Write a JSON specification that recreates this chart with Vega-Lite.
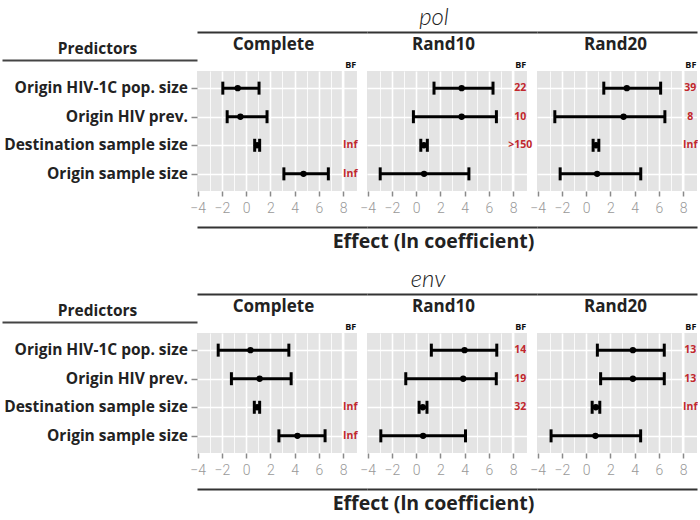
{
  "$schema": "https://vega.github.io/schema/vega-lite/v6.json",
  "padding": {"left": 2, "top": 6, "right": 0, "bottom": 4},
  "background": "white",
  "config": {"view": {"stroke": null}, "font": "Lato"},
  "datasets": {
    "est": [
      {"section": "pol", "panel": "Complete", "predictor": "Origin HIV-1C pop. size", "lo": -1.92, "mean": -0.69, "hi": 1.07, "bf": ""},
      {"section": "pol", "panel": "Complete", "predictor": "Origin HIV prev.", "lo": -1.56, "mean": -0.47, "hi": 1.73, "bf": ""},
      {"section": "pol", "panel": "Complete", "predictor": "Destination sample size", "lo": 0.71, "mean": 0.9, "hi": 1.12, "bf": "Inf"},
      {"section": "pol", "panel": "Complete", "predictor": "Origin sample size", "lo": 3.12, "mean": 4.74, "hi": 6.79, "bf": "Inf"},
      {"section": "pol", "panel": "Rand10", "predictor": "Origin HIV-1C pop. size", "lo": 1.48, "mean": 3.76, "hi": 6.35, "bf": "22"},
      {"section": "pol", "panel": "Rand10", "predictor": "Origin HIV prev.", "lo": -0.22, "mean": 3.76, "hi": 6.63, "bf": "10"},
      {"section": "pol", "panel": "Rand10", "predictor": "Destination sample size", "lo": 0.39, "mean": 0.65, "hi": 0.93, "bf": ">150"},
      {"section": "pol", "panel": "Rand10", "predictor": "Origin sample size", "lo": -2.96, "mean": 0.66, "hi": 4.36, "bf": ""},
      {"section": "pol", "panel": "Rand20", "predictor": "Origin HIV-1C pop. size", "lo": 1.46, "mean": 3.36, "hi": 6.15, "bf": "39"},
      {"section": "pol", "panel": "Rand20", "predictor": "Origin HIV prev.", "lo": -2.58, "mean": 3.09, "hi": 6.5, "bf": "8"},
      {"section": "pol", "panel": "Rand20", "predictor": "Destination sample size", "lo": 0.58, "mean": 0.82, "hi": 1.05, "bf": "Inf"},
      {"section": "pol", "panel": "Rand20", "predictor": "Origin sample size", "lo": -2.14, "mean": 0.91, "hi": 4.51, "bf": ""},
      {"section": "env", "panel": "Complete", "predictor": "Origin HIV-1C pop. size", "lo": -2.3, "mean": 0.36, "hi": 3.53, "bf": ""},
      {"section": "env", "panel": "Complete", "predictor": "Origin HIV prev.", "lo": -1.21, "mean": 1.12, "hi": 3.72, "bf": ""},
      {"section": "env", "panel": "Complete", "predictor": "Destination sample size", "lo": 0.68, "mean": 0.9, "hi": 1.12, "bf": "Inf"},
      {"section": "env", "panel": "Complete", "predictor": "Origin sample size", "lo": 2.71, "mean": 4.24, "hi": 6.52, "bf": "Inf"},
      {"section": "env", "panel": "Rand10", "predictor": "Origin HIV-1C pop. size", "lo": 1.26, "mean": 4.0, "hi": 6.66, "bf": "14"},
      {"section": "env", "panel": "Rand10", "predictor": "Origin HIV prev.", "lo": -0.85, "mean": 3.89, "hi": 6.62, "bf": "19"},
      {"section": "env", "panel": "Rand10", "predictor": "Destination sample size", "lo": 0.25, "mean": 0.55, "hi": 0.9, "bf": "32"},
      {"section": "env", "panel": "Rand10", "predictor": "Origin sample size", "lo": -2.91, "mean": 0.58, "hi": 4.08, "bf": ""},
      {"section": "env", "panel": "Rand20", "predictor": "Origin HIV-1C pop. size", "lo": 0.93, "mean": 3.86, "hi": 6.45, "bf": "13"},
      {"section": "env", "panel": "Rand20", "predictor": "Origin HIV prev.", "lo": 1.2, "mean": 3.86, "hi": 6.45, "bf": "13"},
      {"section": "env", "panel": "Rand20", "predictor": "Destination sample size", "lo": 0.5, "mean": 0.8, "hi": 1.13, "bf": "Inf"},
      {"section": "env", "panel": "Rand20", "predictor": "Origin sample size", "lo": -2.89, "mean": 0.77, "hi": 4.5, "bf": ""}
    ]
  },
  "spacing": 17,
  "vconcat": [
    {
      "bounds": "flush",
      "spacing": 0,
      "hconcat": [
        {
          "width": 195, "height": 120,
          "data": {"name": "est"},
          "transform": [{"filter": "datum.section === 'pol' && datum.panel === 'Complete'"}],
          "mark": {"type": "text", "align": "right", "baseline": "middle", "dx": -9, "font": "Open Sans", "fontSize": 15.5, "fontWeight": "bold", "color": "#222222"},
          "encoding": {
            "x": {"datum": 1, "type": "quantitative", "scale": {"domain": [0, 1], "nice": false, "zero": false},
                  "axis": {"orient": "top", "offset": 11, "domain": true, "domainColor": "#444444", "domainWidth": 2, "ticks": false, "labels": false, "grid": false,
                           "title": "Predictors", "titleFont": "Open Sans", "titleFontSize": 15.5, "titleFontWeight": "bold", "titleColor": "#222222", "titlePadding": 4, "titleX": 95}},
            "y": {"field": "predictor", "type": "nominal", "scale": {"type": "point", "padding": 0.6, "domain": ["Origin HIV-1C pop. size", "Origin HIV prev.", "Destination sample size", "Origin sample size"]}, "axis": null},
            "text": {"field": "predictor"}
          }
        },
        {
          "width": 170, "height": 120,
          "view": {"fill": "#E4E4E4", "stroke": null},
          "data": {"name": "est"},
          "transform": [{"filter": "datum.section === 'pol' && datum.panel === 'Complete'"}],
          "resolve": {"axis": {"x": "independent"}},
          "layer": [
            {"data": {"values": [{}]}, "mark": {"type": "rect", "color": "white"},
             "encoding": {"x": {"datum": 7.9, "type": "quantitative", "scale": {"domain": [-4.05, 9.98], "nice": false, "zero": false},
               "axis": {"orient": "bottom", "values": [-4,-3,-2,-1,0,1,2,3,4,5,6,7,8], "labelExpr": "datum.value % 2 === 0 ? datum.label : ''", "domain": false, "ticks": true, "tickSize": 5, "tickWidth": 1.5, "tickColor": "#8a8a8a", "tickOpacity": {"condition": {"test": "datum.value % 2 === 0", "value": 1}, "value": 0}, "grid": true, "gridColor": "white", "gridWidth": {"condition": {"test": "datum.value % 2 === 0", "value": 1.6}, "value": 0.8}, "gridOpacity": {"condition": {"test": "datum.value < -3.5", "value": 0}, "value": 1}, "labelFont": "Roboto", "labelFontWeight": 300, "labelFontSize": 14, "labelColor": "#999999", "labelPadding": 5, "labelFlush": false, "labelOverlap": false, "title": null}},
               "x2": {"datum": 8.1}}},
            {"data": {"values": [{}]}, "mark": {"type": "rect", "color": "white"},
             "encoding": {"x": {"datum": 9.15, "type": "quantitative", "axis": null}, "x2": {"datum": 9.98}}},
            {"encoding": {"y": {"field": "predictor", "type": "nominal", "scale": {"type": "point", "padding": 0.6, "domain": ["Origin HIV-1C pop. size", "Origin HIV prev.", "Destination sample size", "Origin sample size"]},
                "axis": {"orient": "left", "domain": false, "labels": false, "ticks": true, "tickSize": 6, "tickWidth": 1.5, "tickColor": "#8a8a8a", "grid": true, "gridColor": "white", "gridWidth": 1.6, "title": null}}},
             "resolve": {"axis": {"x": "independent"}},
             "layer": [
               {"mark": {"type": "rule", "strokeWidth": 3, "color": "black"},
                "encoding": {"x": {"field": "lo", "type": "quantitative",
                   "axis": {"orient": "top", "offset": 39, "domain": true, "domainColor": "#333333", "domainWidth": 2, "ticks": false, "tickSize": 0, "values": [8.6], "labelExpr": "'BF'", "labelFont": "Open Sans", "labelFontSize": 9, "labelFontWeight": "bold", "labelColor": "#111111", "labelPadding": -37, "labelFlush": false, "grid": false, "title": "Complete", "titleX": 76, "titleY": 12, "titleAlign": "center", "titleBaseline": "middle", "titleFont": "Open Sans", "titleFontSize": 17, "titleFontWeight": "bold", "titleColor": "#222222"}},
                  "x2": {"field": "hi"}}},
               {"mark": {"type": "tick", "orient": "vertical", "size": 13, "thickness": 3, "color": "black", "opacity": 1},
                "encoding": {"x": {"field": "lo", "type": "quantitative", "axis": {"orient": "bottom", "offset": 36, "domain": true, "domainColor": "#333333", "domainWidth": 2, "ticks": false, "labels": false, "grid": false, "title": null}}}},
               {"mark": {"type": "tick", "orient": "vertical", "size": 13, "thickness": 3, "color": "black", "opacity": 1},
                "encoding": {"x": {"field": "hi", "type": "quantitative", "axis": null}}},
               {"mark": {"type": "point", "filled": true, "size": 40, "color": "black", "opacity": 1},
                "encoding": {"x": {"field": "mean", "type": "quantitative", "axis": null}}},
               {"mark": {"type": "text", "color": "#C1272D", "fontSize": 10.5, "fontWeight": "bold", "align": "center", "baseline": "middle", "font": "Open Sans"},
                "encoding": {"x": {"datum": 8.6, "type": "quantitative", "axis": null}, "text": {"field": "bf"}}}
             ]}
          ]
        },
        {
          "width": 170, "height": 120,
          "view": {"fill": "#E4E4E4", "stroke": null},
          "title": {"text": "pol", "font": "Lato", "fontSize": 24, "fontStyle": "italic", "fontWeight": 300, "color": "#222222", "anchor": "middle", "frame": "group", "dx": -18, "offset": 2},
          "data": {"name": "est"},
          "transform": [{"filter": "datum.section === 'pol' && datum.panel === 'Rand10'"}],
          "resolve": {"axis": {"x": "independent"}},
          "layer": [
            {"data": {"values": [{}]}, "mark": {"type": "rect", "color": "white"},
             "encoding": {"x": {"datum": 7.9, "type": "quantitative", "scale": {"domain": [-4.05, 9.98], "nice": false, "zero": false},
               "axis": {"orient": "bottom", "values": [-4,-3,-2,-1,0,1,2,3,4,5,6,7,8], "labelExpr": "datum.value % 2 === 0 ? datum.label : ''", "domain": false, "ticks": true, "tickSize": 5, "tickWidth": 1.5, "tickColor": "#8a8a8a", "tickOpacity": {"condition": {"test": "datum.value % 2 === 0", "value": 1}, "value": 0}, "grid": true, "gridColor": "white", "gridWidth": {"condition": {"test": "datum.value % 2 === 0", "value": 1.6}, "value": 0.8}, "gridOpacity": {"condition": {"test": "datum.value < -3.5", "value": 0}, "value": 1}, "labelFont": "Roboto", "labelFontWeight": 300, "labelFontSize": 14, "labelColor": "#999999", "labelPadding": 5, "labelFlush": false, "labelOverlap": false, "title": null}},
               "x2": {"datum": 8.1}}},
            {"data": {"values": [{}]}, "mark": {"type": "rect", "color": "white"},
             "encoding": {"x": {"datum": 9.15, "type": "quantitative", "axis": null}, "x2": {"datum": 9.98}}},
            {"encoding": {"y": {"field": "predictor", "type": "nominal", "scale": {"type": "point", "padding": 0.6, "domain": ["Origin HIV-1C pop. size", "Origin HIV prev.", "Destination sample size", "Origin sample size"]},
                "axis": {"orient": "left", "domain": false, "labels": false, "ticks": false, "grid": true, "gridColor": "white", "gridWidth": 1.6, "title": null}}},
             "resolve": {"axis": {"x": "independent"}},
             "layer": [
               {"mark": {"type": "rule", "strokeWidth": 3, "color": "black"},
                "encoding": {"x": {"field": "lo", "type": "quantitative",
                   "axis": {"orient": "top", "offset": 39, "domain": true, "domainColor": "#333333", "domainWidth": 2, "ticks": false, "tickSize": 0, "values": [8.6], "labelExpr": "'BF'", "labelFont": "Open Sans", "labelFontSize": 9, "labelFontWeight": "bold", "labelColor": "#111111", "labelPadding": -37, "labelFlush": false, "grid": false, "title": "Rand10", "titleX": 76, "titleY": 12, "titleAlign": "center", "titleBaseline": "middle", "titleFont": "Open Sans", "titleFontSize": 17, "titleFontWeight": "bold", "titleColor": "#222222"}},
                  "x2": {"field": "hi"}}},
               {"mark": {"type": "tick", "orient": "vertical", "size": 13, "thickness": 3, "color": "black", "opacity": 1},
                "encoding": {"x": {"field": "lo", "type": "quantitative", "axis": {"orient": "bottom", "offset": 36, "domain": true, "domainColor": "#333333", "domainWidth": 2, "ticks": false, "labels": false, "grid": false, "title": "Effect (ln coefficient)", "titleX": 66, "titleY": 14, "titleAlign": "center", "titleBaseline": "middle", "titleFont": "Open Sans", "titleFontSize": 19.5, "titleFontWeight": "bold", "titleColor": "#222222"}}}},
               {"mark": {"type": "tick", "orient": "vertical", "size": 13, "thickness": 3, "color": "black", "opacity": 1},
                "encoding": {"x": {"field": "hi", "type": "quantitative", "axis": null}}},
               {"mark": {"type": "point", "filled": true, "size": 40, "color": "black", "opacity": 1},
                "encoding": {"x": {"field": "mean", "type": "quantitative", "axis": null}}},
               {"mark": {"type": "text", "color": "#C1272D", "fontSize": 10.5, "fontWeight": "bold", "align": "center", "baseline": "middle", "font": "Open Sans"},
                "encoding": {"x": {"datum": 8.6, "type": "quantitative", "axis": null}, "text": {"field": "bf"}}}
             ]}
          ]
        },
        {
          "width": 160, "height": 120,
          "view": {"fill": "#E4E4E4", "stroke": null},
          "data": {"name": "est"},
          "transform": [{"filter": "datum.section === 'pol' && datum.panel === 'Rand20'"}],
          "resolve": {"axis": {"x": "independent"}},
          "layer": [
            {"data": {"values": [{}]}, "mark": {"type": "rect", "color": "white"},
             "encoding": {"x": {"datum": 7.9, "type": "quantitative", "scale": {"domain": [-4.05, 9.15], "nice": false, "zero": false},
               "axis": {"orient": "bottom", "values": [-4,-3,-2,-1,0,1,2,3,4,5,6,7,8], "labelExpr": "datum.value % 2 === 0 ? datum.label : ''", "domain": false, "ticks": true, "tickSize": 5, "tickWidth": 1.5, "tickColor": "#8a8a8a", "tickOpacity": {"condition": {"test": "datum.value % 2 === 0", "value": 1}, "value": 0}, "grid": true, "gridColor": "white", "gridWidth": {"condition": {"test": "datum.value % 2 === 0", "value": 1.6}, "value": 0.8}, "gridOpacity": {"condition": {"test": "datum.value < -3.5", "value": 0}, "value": 1}, "labelFont": "Roboto", "labelFontWeight": 300, "labelFontSize": 14, "labelColor": "#999999", "labelPadding": 5, "labelFlush": false, "labelOverlap": false, "title": null}},
               "x2": {"datum": 8.1}}},
            {"encoding": {"y": {"field": "predictor", "type": "nominal", "scale": {"type": "point", "padding": 0.6, "domain": ["Origin HIV-1C pop. size", "Origin HIV prev.", "Destination sample size", "Origin sample size"]},
                "axis": {"orient": "left", "domain": false, "labels": false, "ticks": false, "grid": true, "gridColor": "white", "gridWidth": 1.6, "title": null}}},
             "resolve": {"axis": {"x": "independent"}},
             "layer": [
               {"mark": {"type": "rule", "strokeWidth": 3, "color": "black"},
                "encoding": {"x": {"field": "lo", "type": "quantitative",
                   "axis": {"orient": "top", "offset": 39, "domain": true, "domainColor": "#333333", "domainWidth": 2, "ticks": false, "tickSize": 0, "values": [8.6], "labelExpr": "'BF'", "labelFont": "Open Sans", "labelFontSize": 9, "labelFontWeight": "bold", "labelColor": "#111111", "labelPadding": -37, "labelFlush": false, "grid": false, "title": "Rand20", "titleX": 78, "titleY": 12, "titleAlign": "center", "titleBaseline": "middle", "titleFont": "Open Sans", "titleFontSize": 17, "titleFontWeight": "bold", "titleColor": "#222222"}},
                  "x2": {"field": "hi"}}},
               {"mark": {"type": "tick", "orient": "vertical", "size": 13, "thickness": 3, "color": "black", "opacity": 1},
                "encoding": {"x": {"field": "lo", "type": "quantitative", "axis": {"orient": "bottom", "offset": 36, "domain": true, "domainColor": "#333333", "domainWidth": 2, "ticks": false, "labels": false, "grid": false, "title": null}}}},
               {"mark": {"type": "tick", "orient": "vertical", "size": 13, "thickness": 3, "color": "black", "opacity": 1},
                "encoding": {"x": {"field": "hi", "type": "quantitative", "axis": null}}},
               {"mark": {"type": "point", "filled": true, "size": 40, "color": "black", "opacity": 1},
                "encoding": {"x": {"field": "mean", "type": "quantitative", "axis": null}}},
               {"mark": {"type": "text", "color": "#C1272D", "fontSize": 10.5, "fontWeight": "bold", "align": "center", "baseline": "middle", "font": "Open Sans"},
                "encoding": {"x": {"datum": 8.6, "type": "quantitative", "axis": null}, "text": {"field": "bf"}}}
             ]}
          ]
        }
      ]
    },
    {
      "bounds": "flush",
      "spacing": 0,
      "hconcat": [
        {
          "width": 195, "height": 120,
          "data": {"name": "est"},
          "transform": [{"filter": "datum.section === 'env' && datum.panel === 'Complete'"}],
          "mark": {"type": "text", "align": "right", "baseline": "middle", "dx": -9, "font": "Open Sans", "fontSize": 15.5, "fontWeight": "bold", "color": "#222222"},
          "encoding": {
            "x": {"datum": 1, "type": "quantitative", "scale": {"domain": [0, 1], "nice": false, "zero": false},
                  "axis": {"orient": "top", "offset": 11, "domain": true, "domainColor": "#444444", "domainWidth": 2, "ticks": false, "labels": false, "grid": false,
                           "title": "Predictors", "titleFont": "Open Sans", "titleFontSize": 15.5, "titleFontWeight": "bold", "titleColor": "#222222", "titlePadding": 4, "titleX": 95}},
            "y": {"field": "predictor", "type": "nominal", "scale": {"type": "point", "padding": 0.6, "domain": ["Origin HIV-1C pop. size", "Origin HIV prev.", "Destination sample size", "Origin sample size"]}, "axis": null},
            "text": {"field": "predictor"}
          }
        },
        {
          "width": 170, "height": 120,
          "view": {"fill": "#E4E4E4", "stroke": null},
          "data": {"name": "est"},
          "transform": [{"filter": "datum.section === 'env' && datum.panel === 'Complete'"}],
          "resolve": {"axis": {"x": "independent"}},
          "layer": [
            {"data": {"values": [{}]}, "mark": {"type": "rect", "color": "white"},
             "encoding": {"x": {"datum": 7.9, "type": "quantitative", "scale": {"domain": [-4.05, 9.98], "nice": false, "zero": false},
               "axis": {"orient": "bottom", "values": [-4,-3,-2,-1,0,1,2,3,4,5,6,7,8], "labelExpr": "datum.value % 2 === 0 ? datum.label : ''", "domain": false, "ticks": true, "tickSize": 5, "tickWidth": 1.5, "tickColor": "#8a8a8a", "tickOpacity": {"condition": {"test": "datum.value % 2 === 0", "value": 1}, "value": 0}, "grid": true, "gridColor": "white", "gridWidth": {"condition": {"test": "datum.value % 2 === 0", "value": 1.6}, "value": 0.8}, "gridOpacity": {"condition": {"test": "datum.value < -3.5", "value": 0}, "value": 1}, "labelFont": "Roboto", "labelFontWeight": 300, "labelFontSize": 14, "labelColor": "#999999", "labelPadding": 5, "labelFlush": false, "labelOverlap": false, "title": null}},
               "x2": {"datum": 8.1}}},
            {"data": {"values": [{}]}, "mark": {"type": "rect", "color": "white"},
             "encoding": {"x": {"datum": 9.15, "type": "quantitative", "axis": null}, "x2": {"datum": 9.98}}},
            {"encoding": {"y": {"field": "predictor", "type": "nominal", "scale": {"type": "point", "padding": 0.6, "domain": ["Origin HIV-1C pop. size", "Origin HIV prev.", "Destination sample size", "Origin sample size"]},
                "axis": {"orient": "left", "domain": false, "labels": false, "ticks": true, "tickSize": 6, "tickWidth": 1.5, "tickColor": "#8a8a8a", "grid": true, "gridColor": "white", "gridWidth": 1.6, "title": null}}},
             "resolve": {"axis": {"x": "independent"}},
             "layer": [
               {"mark": {"type": "rule", "strokeWidth": 3, "color": "black"},
                "encoding": {"x": {"field": "lo", "type": "quantitative",
                   "axis": {"orient": "top", "offset": 39, "domain": true, "domainColor": "#333333", "domainWidth": 2, "ticks": false, "tickSize": 0, "values": [8.6], "labelExpr": "'BF'", "labelFont": "Open Sans", "labelFontSize": 9, "labelFontWeight": "bold", "labelColor": "#111111", "labelPadding": -37, "labelFlush": false, "grid": false, "title": "Complete", "titleX": 76, "titleY": 12, "titleAlign": "center", "titleBaseline": "middle", "titleFont": "Open Sans", "titleFontSize": 17, "titleFontWeight": "bold", "titleColor": "#222222"}},
                  "x2": {"field": "hi"}}},
               {"mark": {"type": "tick", "orient": "vertical", "size": 13, "thickness": 3, "color": "black", "opacity": 1},
                "encoding": {"x": {"field": "lo", "type": "quantitative", "axis": {"orient": "bottom", "offset": 36, "domain": true, "domainColor": "#333333", "domainWidth": 2, "ticks": false, "labels": false, "grid": false, "title": null}}}},
               {"mark": {"type": "tick", "orient": "vertical", "size": 13, "thickness": 3, "color": "black", "opacity": 1},
                "encoding": {"x": {"field": "hi", "type": "quantitative", "axis": null}}},
               {"mark": {"type": "point", "filled": true, "size": 40, "color": "black", "opacity": 1},
                "encoding": {"x": {"field": "mean", "type": "quantitative", "axis": null}}},
               {"mark": {"type": "text", "color": "#C1272D", "fontSize": 10.5, "fontWeight": "bold", "align": "center", "baseline": "middle", "font": "Open Sans"},
                "encoding": {"x": {"datum": 8.6, "type": "quantitative", "axis": null}, "text": {"field": "bf"}}}
             ]}
          ]
        },
        {
          "width": 170, "height": 120,
          "view": {"fill": "#E4E4E4", "stroke": null},
          "title": {"text": "env", "font": "Lato", "fontSize": 24, "fontStyle": "italic", "fontWeight": 300, "color": "#222222", "anchor": "middle", "frame": "group", "dx": -24, "offset": 2},
          "data": {"name": "est"},
          "transform": [{"filter": "datum.section === 'env' && datum.panel === 'Rand10'"}],
          "resolve": {"axis": {"x": "independent"}},
          "layer": [
            {"data": {"values": [{}]}, "mark": {"type": "rect", "color": "white"},
             "encoding": {"x": {"datum": 7.9, "type": "quantitative", "scale": {"domain": [-4.05, 9.98], "nice": false, "zero": false},
               "axis": {"orient": "bottom", "values": [-4,-3,-2,-1,0,1,2,3,4,5,6,7,8], "labelExpr": "datum.value % 2 === 0 ? datum.label : ''", "domain": false, "ticks": true, "tickSize": 5, "tickWidth": 1.5, "tickColor": "#8a8a8a", "tickOpacity": {"condition": {"test": "datum.value % 2 === 0", "value": 1}, "value": 0}, "grid": true, "gridColor": "white", "gridWidth": {"condition": {"test": "datum.value % 2 === 0", "value": 1.6}, "value": 0.8}, "gridOpacity": {"condition": {"test": "datum.value < -3.5", "value": 0}, "value": 1}, "labelFont": "Roboto", "labelFontWeight": 300, "labelFontSize": 14, "labelColor": "#999999", "labelPadding": 5, "labelFlush": false, "labelOverlap": false, "title": null}},
               "x2": {"datum": 8.1}}},
            {"data": {"values": [{}]}, "mark": {"type": "rect", "color": "white"},
             "encoding": {"x": {"datum": 9.15, "type": "quantitative", "axis": null}, "x2": {"datum": 9.98}}},
            {"encoding": {"y": {"field": "predictor", "type": "nominal", "scale": {"type": "point", "padding": 0.6, "domain": ["Origin HIV-1C pop. size", "Origin HIV prev.", "Destination sample size", "Origin sample size"]},
                "axis": {"orient": "left", "domain": false, "labels": false, "ticks": false, "grid": true, "gridColor": "white", "gridWidth": 1.6, "title": null}}},
             "resolve": {"axis": {"x": "independent"}},
             "layer": [
               {"mark": {"type": "rule", "strokeWidth": 3, "color": "black"},
                "encoding": {"x": {"field": "lo", "type": "quantitative",
                   "axis": {"orient": "top", "offset": 39, "domain": true, "domainColor": "#333333", "domainWidth": 2, "ticks": false, "tickSize": 0, "values": [8.6], "labelExpr": "'BF'", "labelFont": "Open Sans", "labelFontSize": 9, "labelFontWeight": "bold", "labelColor": "#111111", "labelPadding": -37, "labelFlush": false, "grid": false, "title": "Rand10", "titleX": 76, "titleY": 12, "titleAlign": "center", "titleBaseline": "middle", "titleFont": "Open Sans", "titleFontSize": 17, "titleFontWeight": "bold", "titleColor": "#222222"}},
                  "x2": {"field": "hi"}}},
               {"mark": {"type": "tick", "orient": "vertical", "size": 13, "thickness": 3, "color": "black", "opacity": 1},
                "encoding": {"x": {"field": "lo", "type": "quantitative", "axis": {"orient": "bottom", "offset": 36, "domain": true, "domainColor": "#333333", "domainWidth": 2, "ticks": false, "labels": false, "grid": false, "title": "Effect (ln coefficient)", "titleX": 66, "titleY": 14, "titleAlign": "center", "titleBaseline": "middle", "titleFont": "Open Sans", "titleFontSize": 19.5, "titleFontWeight": "bold", "titleColor": "#222222"}}}},
               {"mark": {"type": "tick", "orient": "vertical", "size": 13, "thickness": 3, "color": "black", "opacity": 1},
                "encoding": {"x": {"field": "hi", "type": "quantitative", "axis": null}}},
               {"mark": {"type": "point", "filled": true, "size": 40, "color": "black", "opacity": 1},
                "encoding": {"x": {"field": "mean", "type": "quantitative", "axis": null}}},
               {"mark": {"type": "text", "color": "#C1272D", "fontSize": 10.5, "fontWeight": "bold", "align": "center", "baseline": "middle", "font": "Open Sans"},
                "encoding": {"x": {"datum": 8.6, "type": "quantitative", "axis": null}, "text": {"field": "bf"}}}
             ]}
          ]
        },
        {
          "width": 160, "height": 120,
          "view": {"fill": "#E4E4E4", "stroke": null},
          "data": {"name": "est"},
          "transform": [{"filter": "datum.section === 'env' && datum.panel === 'Rand20'"}],
          "resolve": {"axis": {"x": "independent"}},
          "layer": [
            {"data": {"values": [{}]}, "mark": {"type": "rect", "color": "white"},
             "encoding": {"x": {"datum": 7.9, "type": "quantitative", "scale": {"domain": [-4.05, 9.15], "nice": false, "zero": false},
               "axis": {"orient": "bottom", "values": [-4,-3,-2,-1,0,1,2,3,4,5,6,7,8], "labelExpr": "datum.value % 2 === 0 ? datum.label : ''", "domain": false, "ticks": true, "tickSize": 5, "tickWidth": 1.5, "tickColor": "#8a8a8a", "tickOpacity": {"condition": {"test": "datum.value % 2 === 0", "value": 1}, "value": 0}, "grid": true, "gridColor": "white", "gridWidth": {"condition": {"test": "datum.value % 2 === 0", "value": 1.6}, "value": 0.8}, "gridOpacity": {"condition": {"test": "datum.value < -3.5", "value": 0}, "value": 1}, "labelFont": "Roboto", "labelFontWeight": 300, "labelFontSize": 14, "labelColor": "#999999", "labelPadding": 5, "labelFlush": false, "labelOverlap": false, "title": null}},
               "x2": {"datum": 8.1}}},
            {"encoding": {"y": {"field": "predictor", "type": "nominal", "scale": {"type": "point", "padding": 0.6, "domain": ["Origin HIV-1C pop. size", "Origin HIV prev.", "Destination sample size", "Origin sample size"]},
                "axis": {"orient": "left", "domain": false, "labels": false, "ticks": false, "grid": true, "gridColor": "white", "gridWidth": 1.6, "title": null}}},
             "resolve": {"axis": {"x": "independent"}},
             "layer": [
               {"mark": {"type": "rule", "strokeWidth": 3, "color": "black"},
                "encoding": {"x": {"field": "lo", "type": "quantitative",
                   "axis": {"orient": "top", "offset": 39, "domain": true, "domainColor": "#333333", "domainWidth": 2, "ticks": false, "tickSize": 0, "values": [8.6], "labelExpr": "'BF'", "labelFont": "Open Sans", "labelFontSize": 9, "labelFontWeight": "bold", "labelColor": "#111111", "labelPadding": -37, "labelFlush": false, "grid": false, "title": "Rand20", "titleX": 78, "titleY": 12, "titleAlign": "center", "titleBaseline": "middle", "titleFont": "Open Sans", "titleFontSize": 17, "titleFontWeight": "bold", "titleColor": "#222222"}},
                  "x2": {"field": "hi"}}},
               {"mark": {"type": "tick", "orient": "vertical", "size": 13, "thickness": 3, "color": "black", "opacity": 1},
                "encoding": {"x": {"field": "lo", "type": "quantitative", "axis": {"orient": "bottom", "offset": 36, "domain": true, "domainColor": "#333333", "domainWidth": 2, "ticks": false, "labels": false, "grid": false, "title": null}}}},
               {"mark": {"type": "tick", "orient": "vertical", "size": 13, "thickness": 3, "color": "black", "opacity": 1},
                "encoding": {"x": {"field": "hi", "type": "quantitative", "axis": null}}},
               {"mark": {"type": "point", "filled": true, "size": 40, "color": "black", "opacity": 1},
                "encoding": {"x": {"field": "mean", "type": "quantitative", "axis": null}}},
               {"mark": {"type": "text", "color": "#C1272D", "fontSize": 10.5, "fontWeight": "bold", "align": "center", "baseline": "middle", "font": "Open Sans"},
                "encoding": {"x": {"datum": 8.6, "type": "quantitative", "axis": null}, "text": {"field": "bf"}}}
             ]}
          ]
        }
      ]
    }
  ]
}
